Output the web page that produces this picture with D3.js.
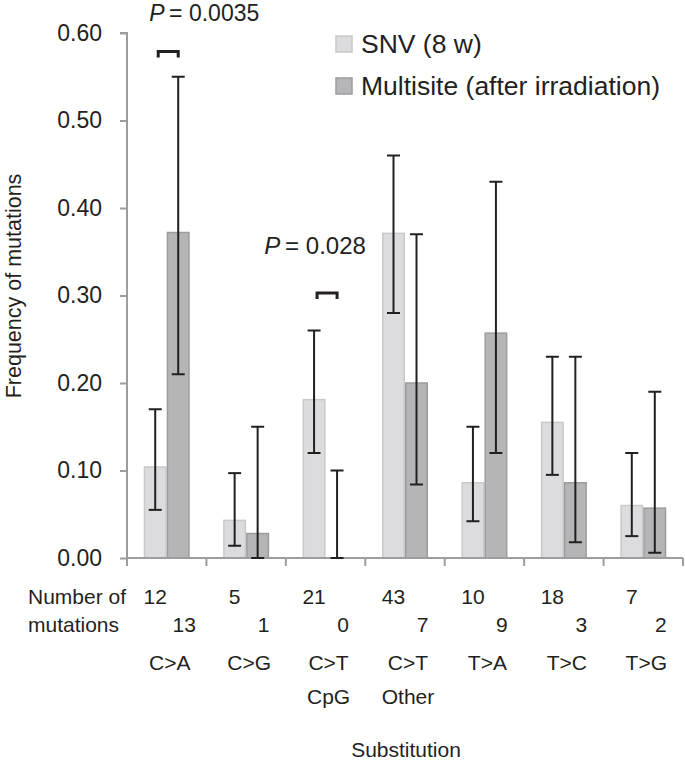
<!DOCTYPE html>
<html>
<head>
<meta charset="utf-8">
<script src="https://cdn.jsdelivr.net/npm/d3@7"></script>
<style>
  html, body { margin: 0; padding: 0; background: #fff; }
  svg text { font-family: "Liberation Sans", Arial, Helvetica, sans-serif; fill: #231f20; }
</style>
</head>
<body>
<svg id="chart" width="685" height="766"></svg>
<script>
// ---- data ----
const categories = ["C>A", "C>G", "C>T CpG", "C>T Other", "T>A", "T>C", "T>G"];
const categoryLines = [["C>A"], ["C>G"], ["C>T", "CpG"], ["C>T", "Other"], ["T>A"], ["T>C"], ["T>G"]];
const seriesNames = ["SNV (8 w)", "Multisite (after irradiation)"];
const snvValues = [0.104, 0.043, 0.181, 0.371, 0.086, 0.155, 0.060];
const snvLow    = [0.055, 0.014, 0.120, 0.280, 0.042, 0.095, 0.025];
const snvHigh   = [0.170, 0.097, 0.260, 0.460, 0.150, 0.230, 0.120];
const multiValues = [0.372, 0.028, 0.000, 0.200, 0.257, 0.086, 0.057];
const multiLow    = [0.210, 0.000, 0.000, 0.084, 0.120, 0.018, 0.006];
const multiHigh   = [0.550, 0.150, 0.100, 0.370, 0.430, 0.230, 0.190];
const snvCounts   = [12, 5, 21, 43, 10, 18, 7];
const multiCounts = [13, 1, 0, 7, 9, 3, 2];
const yTicks = [0, 0.1, 0.2, 0.3, 0.4, 0.5, 0.6];
const pCategories = ["C>A", "C>T CpG"];
const pLabels = ["0.0035", "0.028"];
const pBracketValues = [0.579, 0.303];

// ---- layout ----
const svg = d3.select("#chart");
const mLeft = 127, mRight = 683, mTop = 33, mBottom = 558;
const y = d3.scaleLinear().domain([0, 0.6]).range([mBottom, mTop]);
const x = d3.scaleBand().domain(categories).range([mLeft, mRight]).padding(0);
const bw = x.bandwidth();
const barW = 23;
const inner = d3.scaleBand().domain([0, 1]).range([(bw - 2 * barW) / 2, (bw + 2 * barW) / 2]);

const fills = ["#dcdcde", "#b5b5b7"];
const strokes = ["#c9c9cb", "#9c9c9e"];
const axisColor = "#9d9d9f";

const series = [
  { vals: snvValues, lo: snvLow, hi: snvHigh },
  { vals: multiValues, lo: multiLow, hi: multiHigh }
];

// y axis
const yAxis = d3.axisLeft(y).tickValues(yTicks).tickFormat(d3.format(".2f")).tickSize(7).tickPadding(18);
const gy = svg.append("g").attr("transform", `translate(${mLeft},0)`).call(yAxis);
gy.select(".domain").attr("stroke", axisColor).attr("stroke-width", 2).attr("d", `M-7,${mTop}H0V${mBottom}`);
gy.selectAll(".tick line").attr("stroke", axisColor).attr("stroke-width", 2);
gy.selectAll(".tick text").style("font-size", "23px").attr("fill", "#231f20")
  .style("font-family", '"Liberation Sans", Arial, sans-serif');

// bars
series.forEach((s, si) => {
  svg.append("g").selectAll("rect").data(categories).join("rect")
    .attr("x", c => x(c) + inner(si) + 0.75)
    .attr("width", barW - 1.5)
    .attr("y", (c, i) => y(s.vals[i]))
    .attr("height", (c, i) => mBottom - y(s.vals[i]))
    .attr("fill", fills[si])
    .attr("stroke", strokes[si])
    .attr("stroke-width", 1.5);
});

// x axis line and ticks
const gx = svg.append("g");
gx.append("line").attr("x1", mLeft).attr("x2", mRight).attr("y1", mBottom).attr("y2", mBottom)
  .attr("stroke", axisColor).attr("stroke-width", 2);
const boundaries = categories.map(c => x(c)).concat([mRight]);
gx.selectAll("line.tk").data(boundaries).join("line").attr("class", "tk")
  .attr("x1", d => d).attr("x2", d => d).attr("y1", mBottom).attr("y2", mBottom + 8)
  .attr("stroke", axisColor).attr("stroke-width", 2);

// error bars
const capW = 13;
series.forEach((s, si) => {
  const g = svg.append("g").attr("stroke", "#231f20").attr("stroke-width", 2).attr("fill", "none");
  categories.forEach((c, i) => {
    const cx = x(c) + inner(si) + barW / 2;
    const y1 = y(s.lo[i]), y2 = y(s.hi[i]);
    g.append("line").attr("x1", cx).attr("x2", cx).attr("y1", y1).attr("y2", y2);
    g.append("line").attr("x1", cx - capW / 2).attr("x2", cx + capW / 2).attr("y1", y2).attr("y2", y2);
    g.append("line").attr("x1", cx - capW / 2).attr("x2", cx + capW / 2).attr("y1", y1).attr("y2", y1);
  });
});

// P-value annotations
const pTextOffsets = [{ dx: 36, dy: -30 }, { dx: -12, dy: -39 }];
const pFontSizes = ["23px", "24px"];
pCategories.forEach((c, k) => {
  const x1 = x(c) + inner(0) + barW / 2 + 3;
  const x2 = x(c) + inner(1) + barW / 2;
  const by = y(pBracketValues[k]);
  svg.append("path")
    .attr("d", `M${x1},${by + 6}V${by}H${x2}V${by + 6}`)
    .attr("fill", "none").attr("stroke", "#231f20").attr("stroke-width", 3);
  const t = svg.append("text")
    .attr("x", (x1 + x2) / 2 + pTextOffsets[k].dx)
    .attr("y", by + pTextOffsets[k].dy)
    .attr("text-anchor", "middle")
    .style("font-size", pFontSizes[k]);
  t.append("tspan").style("font-style", "italic").text("P");
  t.append("tspan").text("\u2009= " + pLabels[k]);
});

// legend
const legend = svg.append("g");
seriesNames.forEach((name, i) => {
  const ly = 36 + i * 42;
  legend.append("rect").attr("x", 336).attr("y", ly).attr("width", 16).attr("height", 16)
    .attr("fill", fills[i]).attr("stroke", strokes[i]).attr("stroke-width", 1.5);
  legend.append("text").attr("x", 361).attr("y", ly + 16.5).style("font-size", "26.5px").text(name);
});

// y axis title
svg.append("text")
  .attr("transform", "translate(21,286) rotate(-90)")
  .attr("text-anchor", "middle")
  .style("font-size", "21.5px")
  .text("Frequency of mutations");

// count rows
svg.append("text").attr("x", 28).attr("y", 604).style("font-size", "21px").text("Number of");
svg.append("text").attr("x", 28).attr("y", 632).style("font-size", "21px").text("mutations");
svg.append("g").selectAll("text").data(categories).join("text")
  .attr("x", c => x(c) + inner(0) + barW / 2)
  .attr("y", 604).attr("text-anchor", "middle").style("font-size", "21px")
  .text((c, i) => snvCounts[i]);
svg.append("g").selectAll("text").data(categories).join("text")
  .attr("x", c => x(c) + inner(1) + barW / 2 + 6)
  .attr("y", 632).attr("text-anchor", "middle").style("font-size", "21px")
  .text((c, i) => multiCounts[i]);

// category labels
const catG = svg.append("g");
categories.forEach((c, i) => {
  categoryLines[i].forEach((line, j) => {
    catG.append("text")
      .attr("x", x(c) + bw / 2 + 3)
      .attr("y", 670 + j * 34)
      .attr("text-anchor", "middle")
      .style("font-size", "21px")
      .text(line);
  });
});

// x axis title
svg.append("text").attr("x", 406).attr("y", 757).attr("text-anchor", "middle")
  .style("font-size", "21px").text("Substitution");
</script>
</body>
</html>
